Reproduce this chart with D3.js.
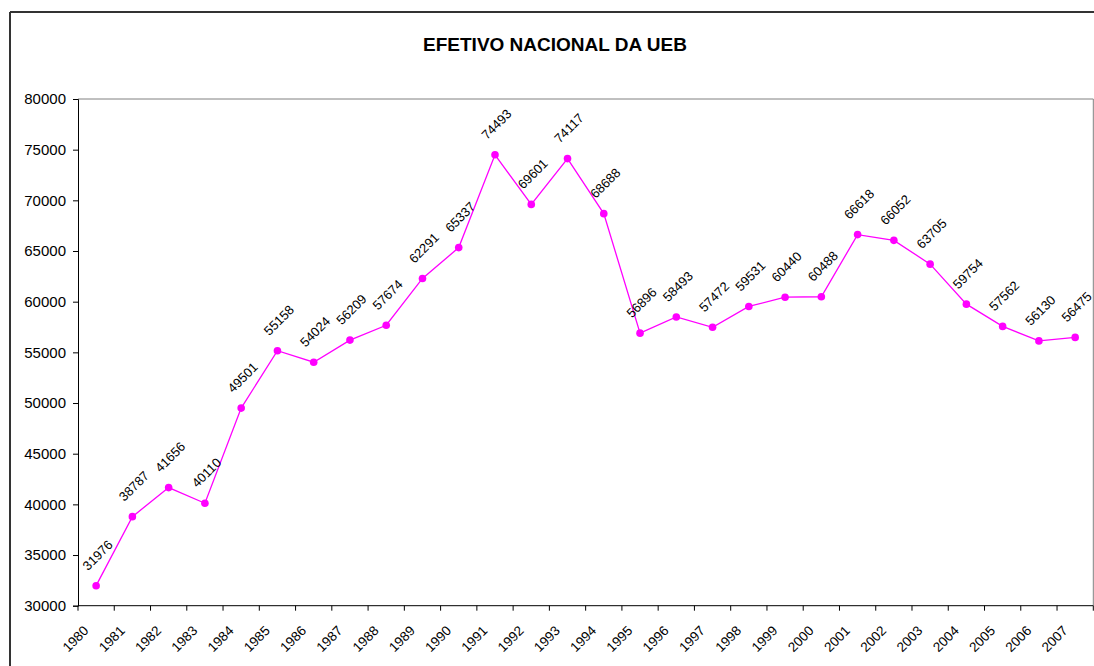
<!DOCTYPE html>
<html>
<head>
<meta charset="utf-8">
<script src="https://cdn.jsdelivr.net/npm/d3@7"></script>
<style>
  html, body { margin: 0; padding: 0; background: #ffffff; }
  svg { display: block; }
  text { font-family: Arial, "Liberation Sans", sans-serif; fill: #000; }
</style>
</head>
<body>
<svg id="chart" width="1094" height="666"></svg>
<script>
const title = "EFETIVO NACIONAL DA UEB";
const years = ["1980","1981","1982","1983","1984","1985","1986","1987","1988","1989",
  "1990","1991","1992","1993","1994","1995","1996","1997","1998","1999",
  "2000","2001","2002","2003","2004","2005","2006","2007"];
const efetivo = [31976, 38787, 41656, 40110, 49501, 55158, 54024, 56209, 57674, 62291,
  65337, 74493, 69601, 74117, 68688, 56896, 58493, 57472, 59531, 60440,
  60488, 66618, 66052, 63705, 59754, 57562, 56130, 56475];
const yTicks = [30000, 35000, 40000, 45000, 50000, 55000, 60000, 65000, 70000, 75000, 80000];

const svg = d3.select("#chart");
const W = 1094, H = 666;

// chart frame (left and top edges visible)
svg.append("line").attr("x1", 10).attr("y1", 12).attr("x2", W).attr("y2", 12)
  .attr("stroke", "#333").attr("stroke-width", 2);
svg.append("line").attr("x1", 10).attr("y1", 12).attr("x2", 10).attr("y2", H)
  .attr("stroke", "#333").attr("stroke-width", 2);

const plot = { left: 78, right: 1093.3, top: 99, bottom: 605.7 };

const x = d3.scaleBand().domain(years).range([plot.left, plot.right]).padding(0);
const y = d3.scaleLinear().domain([30000, 80000]).range([plot.bottom, plot.top]);

// plot area border (top and right, gray)
svg.append("line").attr("x1", plot.left).attr("x2", plot.right).attr("y1", plot.top).attr("y2", plot.top)
  .attr("stroke", "#808080").attr("stroke-width", 1);
svg.append("line").attr("x1", plot.right).attr("x2", plot.right).attr("y1", plot.top).attr("y2", plot.bottom)
  .attr("stroke", "#808080").attr("stroke-width", 1);

// title
svg.append("text").attr("x", 555).attr("y", 44)
  .attr("text-anchor", "middle").attr("dominant-baseline", "central")
  .style("font-weight", "bold").style("font-size", "19px")
  .text(title);

// y axis
const yAxis = d3.axisLeft(y).tickValues(yTicks).tickSize(5).tickPadding(7).tickFormat(d3.format("d"));
const gy = svg.append("g").attr("transform", `translate(${plot.left},0)`).call(yAxis);
gy.select(".domain").attr("stroke", "#000");
gy.selectAll(".tick line").attr("stroke", "#000");
gy.selectAll(".tick text").style("font-size", "15px").style("font-family", "Arial, 'Liberation Sans', sans-serif");

// x axis: ticks at band boundaries
const gx = svg.append("g").attr("transform", `translate(0,${plot.bottom})`);
gx.append("line").attr("x1", plot.left).attr("x2", plot.right).attr("y1", 0).attr("y2", 0)
  .attr("stroke", "#000");
const boundaries = years.map(d => x(d)).concat([x(years[years.length - 1]) + x.bandwidth()]);
gx.selectAll("line.tk").data(boundaries).enter().append("line").attr("class", "tk")
  .attr("x1", d => d).attr("x2", d => d).attr("y1", 0).attr("y2", 5).attr("stroke", "#000");
gx.selectAll("text.yl").data(years).enter().append("text").attr("class", "yl")
  .attr("transform", d => `translate(${x(d) + x.bandwidth() / 2 - 20.5},${639 - plot.bottom}) rotate(-45)`)
  .attr("text-anchor", "middle").attr("dominant-baseline", "central")
  .style("font-size", "13.5px")
  .text(d => d);

// line
const pts = years.map((d, i) => ({ year: d, v: efetivo[i] }));
const line = d3.line().x(d => x(d.year) + x.bandwidth() / 2).y(d => y(d.v));
svg.append("path").datum(pts).attr("d", line)
  .attr("fill", "none").attr("stroke", "#FF00FF").attr("stroke-width", 1.3);
svg.selectAll("circle.pt").data(pts).enter().append("circle").attr("class", "pt")
  .attr("cx", d => x(d.year) + x.bandwidth() / 2).attr("cy", d => y(d.v)).attr("r", 3.8)
  .attr("fill", "#FF00FF");

// data labels
svg.selectAll("text.dl").data(pts).enter().append("text").attr("class", "dl")
  .attr("transform", d => `translate(${x(d.year) + x.bandwidth() / 2 + 1.5},${y(d.v) - 30.5}) rotate(-45)`)
  .attr("text-anchor", "middle").attr("dominant-baseline", "central")
  .style("font-size", "13px")
  .text(d => d.v);
</script>
</body>
</html>
